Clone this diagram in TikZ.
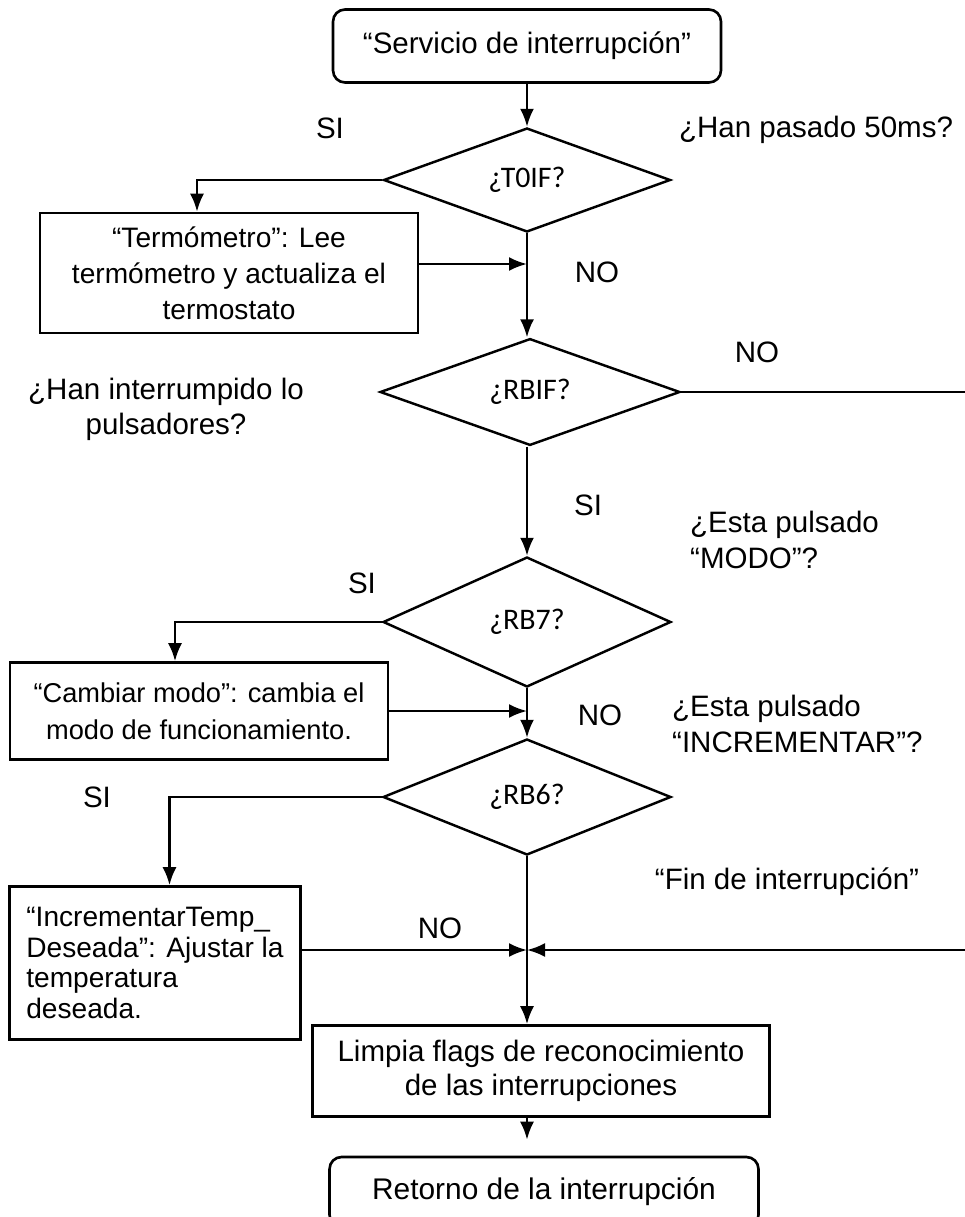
\documentclass[tikz,border=0pt]{standalone}
\usepackage{fontspec}
\setmainfont{Liberation Sans}
\newfontfamily\calibri{Carlito}
\usetikzlibrary{shapes.geometric,arrows.meta,positioning}

\begin{document}
\begin{tikzpicture}[x=0.02cm,y=-0.02cm,
  every node/.style={font=\fontsize{16.8}{20}\selectfont},
  caja/.style={draw,line width=1.5pt,inner sep=0pt,align=center},
  redondo/.style={caja,rounded corners=0.24cm},
  rombo/.style={draw,diamond,line width=1.4pt,inner sep=0pt,font=\calibri\fontsize{17}{18}\selectfont},
  flecha/.style={-{Latex[length=0.36cm,width=0.28cm]},line width=1.4pt},
  linea/.style={line width=1.4pt}]
\useasboundingbox (0,0) rectangle (964,1217);

% bloques
\node[redondo,minimum width=7.76cm,minimum height=1.46cm] (inicio) at (527,46) {“Servicio de interrupción”};
\node[rombo,minimum width=5.74cm,minimum height=2.08cm] (t0if) at (527,180) {¿T0IF?};
\node[caja,minimum width=7.56cm,minimum height=2.4cm,font=\fontsize{16}{20.5}\selectfont] (termo) at (229,273) {“Termómetro”: Lee\\termómetro y actualiza el\\termostato};
\node[rombo,minimum width=6.0cm,minimum height=2.02cm] (rbif) at (530,392) {¿RBIF?};
\node[rombo,minimum width=5.76cm,minimum height=2.6cm] (rb7) at (527,622) {¿RB7?};
\node[caja,minimum width=7.56cm,minimum height=1.94cm,font=\fontsize{15.5}{21}\selectfont] (modo) at (199,711) {“Cambiar modo”: cambia el\\modo de funcionamiento.};
\node[rombo,minimum width=5.76cm,minimum height=2.32cm] (rb6) at (527,797) {¿RB6?};
\node[caja,minimum width=5.82cm,minimum height=3.06cm,align=left,font=\fontsize{16}{17.5}\selectfont] (incr) at (155,963) {“IncrementarTemp\_\\Deseada”: Ajustar la\\temperatura\\deseada.};
\node[caja,minimum width=9.14cm,minimum height=1.82cm,font=\fontsize{16.8}{19.5}\selectfont] (limpia) at (541,1071) {Limpia flags de reconocimiento\\de las interrupciones};
\node[redondo,minimum width=8.58cm,minimum height=1.4cm,font=\fontsize{17}{20}\selectfont] (retorno) at (544,1192) {Retorno de la interrupción};
\coordinate (union) at (527,950);
\coordinate (borde) at (967,392);

% textos sueltos
\node (si1) at (330,128) {SI};
\node (pasado) at (816,130) {¿Han pasado 50ms?};
\node (no1) at (597,272) {NO};
\node (no2) at (757,352) {NO};
\node[align=center] (pulsa) at (166,409) {¿Han interrumpido lo\\pulsadores?};
\node (si2) at (588,505) {SI};
\node[anchor=west,align=left] (pmodo) at (684,540) {¿Esta pulsado\\“MODO”?};
\node (si3) at (362,583) {SI};
\node (no3) at (600,715) {NO};
\node[anchor=west,align=left] (pinc) at (666,724) {¿Esta pulsado\\“INCREMENTAR”?};
\node (si4) at (97,797) {SI};
\node (fin) at (787,882) {“Fin de interrupción”};
\node (no4) at (440,928) {NO};

% conexiones
\draw[flecha] (inicio) -- (t0if);
\draw[flecha] (t0if.west) -| ([xshift=-0.64cm]termo.north);
\draw[flecha] (t0if.south) -- (t0if.south |- rbif.north);
\draw[flecha] ([yshift=0.18cm]termo.east) -- ([yshift=0.18cm]termo.east -| t0if.south);
\draw[linea] (rbif.east) -- (borde);
\draw[flecha] (borde) |- (union);
\draw[flecha] (t0if.south |- rbif.south) -- (rb7.north);
\draw[flecha] (rb7.west) -| ([xshift=-0.48cm]modo.north);
\draw[flecha] (modo.east) -- (modo.east -| rb7.south);
\draw[flecha] (rb7.south) -- (rb6.north);
\draw[flecha] (rb6.west) -| ([xshift=0.29cm]incr.north);
\draw[flecha] (incr.east |- union) -- (union);
\draw[flecha] (rb6.south) -- (rb6.south |- limpia.north);
\draw[flecha,shorten >=0.32cm] (rb6.south |- limpia.south) -- (rb6.south |- retorno.north);
\end{tikzpicture}
\end{document}
